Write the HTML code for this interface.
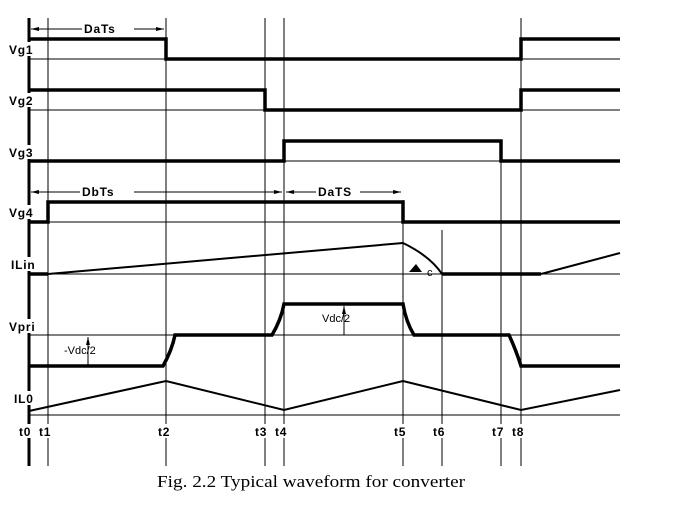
<!DOCTYPE html>
<html><head><meta charset="utf-8"><style>
body{margin:0;background:#fff;}
svg{display:block;}
.l{font-family:"Liberation Sans",sans-serif;font-weight:bold;font-size:12px;letter-spacing:0.8px;}
.s{font-family:"Liberation Sans",sans-serif;font-size:11px;}
</style></head><body>
<svg width="682" height="514" viewBox="0 0 682 514" xmlns="http://www.w3.org/2000/svg">
<defs><marker id="a" markerWidth="8" markerHeight="6" refX="8" refY="3" orient="auto"><path d="M0,1 L8,3 L0,5z" fill="#000"/></marker></defs>
<g stroke="#000" stroke-width="1" fill="none">
<line x1="48" y1="18" x2="48" y2="466"/>
<line x1="166" y1="18" x2="166" y2="466"/>
<line x1="265" y1="18" x2="265" y2="466"/>
<line x1="284" y1="18" x2="284" y2="466"/>
<line x1="403" y1="200" x2="403" y2="466"/>
<line x1="442" y1="230" x2="442" y2="466"/>
<line x1="501" y1="150" x2="501" y2="466"/>
<line x1="521" y1="18" x2="521" y2="466"/>
<line x1="29" y1="59" x2="620" y2="59"/>
<line x1="29" y1="110" x2="620" y2="110"/>
<line x1="29" y1="161" x2="620" y2="161"/>
<line x1="29" y1="222" x2="620" y2="222"/>
<line x1="29" y1="274" x2="620" y2="274"/>
<line x1="29" y1="335" x2="620" y2="335"/>
<line x1="29" y1="415" x2="620" y2="415"/>
<line x1="31" y1="29" x2="164" y2="29" marker-end="url(#a)"/>
<line x1="164" y1="29" x2="31" y2="29" marker-end="url(#a)"/>
<line x1="31" y1="192" x2="282" y2="192" marker-end="url(#a)"/>
<line x1="282" y1="192" x2="31" y2="192" marker-end="url(#a)"/>
<line x1="286" y1="192" x2="401" y2="192" marker-end="url(#a)"/>
<line x1="401" y1="192" x2="286" y2="192" marker-end="url(#a)"/>
<line x1="88" y1="366" x2="88" y2="337" marker-end="url(#a)"/>
<line x1="344" y1="335" x2="344" y2="306" marker-end="url(#a)"/>
</g>
<g stroke="#000" stroke-width="3.5" fill="none">
<line x1="29" y1="18" x2="29" y2="466" stroke-width="3"/>
<polyline points="29,39 166,39 166,59 521,59 521,39 620,39"/>
<polyline points="29,90 265,90 265,110 521,110 521,90 620,90"/>
<polyline points="29,161 284,161 284,141 501,141 501,161 620,161"/>
<polyline points="29,222 48,222 48,202 403,202 403,222 620,222"/>
<polyline points="29,274 48,274"/>
<polyline points="442,274 541,274"/>
<path d="M29,366 H163 Q172,350 175,335 H272 Q281,320 284,304 H403 Q406,322 414,335 H509 Q516,350 521,366 H620"/>
</g>
<g stroke="#000" stroke-width="2" fill="none">
<polyline points="48,274 403,243"/>
<path d="M403,243 Q430,256 442,274"/>
<polyline points="541,274 620,253"/>
<polyline points="29,411 166,381 284,410 403,381 521,410 620,390"/>
</g>
<path d="M409,272 L416,264 L422,272z" fill="#000"/>
<text x="427" y="276" class="s" font-size="6">c</text>
<g fill="#fff">
<rect x="9" y="42" width="37" height="14"/>
<rect x="9" y="93" width="37" height="14"/>
<rect x="9" y="145" width="37" height="14"/>
<rect x="9" y="205" width="37" height="14"/>
<rect x="11" y="257" width="36" height="14"/>
<rect x="9" y="319" width="38" height="14"/>
<rect x="14" y="391" width="30" height="14"/>
<rect x="18" y="424" width="530" height="14"/>
</g>
<g class="l">
<text x="9" y="54">Vg1</text>
<text x="9" y="105">Vg2</text>
<text x="9" y="157">Vg3</text>
<text x="9" y="217">Vg4</text>
<text x="11" y="269">ILin</text>
<text x="9" y="331">Vpri</text>
<text x="14" y="403">IL0</text>
<rect x="82" y="23" width="52" height="12" fill="#fff"/>
<text x="84" y="33">DaTs</text>
<rect x="80" y="186" width="54" height="12" fill="#fff"/>
<text x="82" y="196">DbTs</text>
<rect x="316" y="186" width="44" height="12" fill="#fff"/>
<text x="318" y="196">DaTS</text>
<text x="19" y="436">t0</text>
<text x="39" y="436">t1</text>
<text x="158" y="436">t2</text>
<text x="255" y="436">t3</text>
<text x="275" y="436">t4</text>
<text x="394" y="436">t5</text>
<text x="433" y="436">t6</text>
<text x="492" y="436">t7</text>
<text x="512" y="436">t8</text>
</g>
<text x="64" y="354" class="s">-Vdc/2</text>
<text x="322" y="322" class="s">Vdc/2</text>
<text x="157" y="487" font-family="Liberation Serif,serif" font-size="17" textLength="308" lengthAdjust="spacingAndGlyphs">Fig. 2.2 Typical waveform for converter</text>
</svg>
</body></html>
